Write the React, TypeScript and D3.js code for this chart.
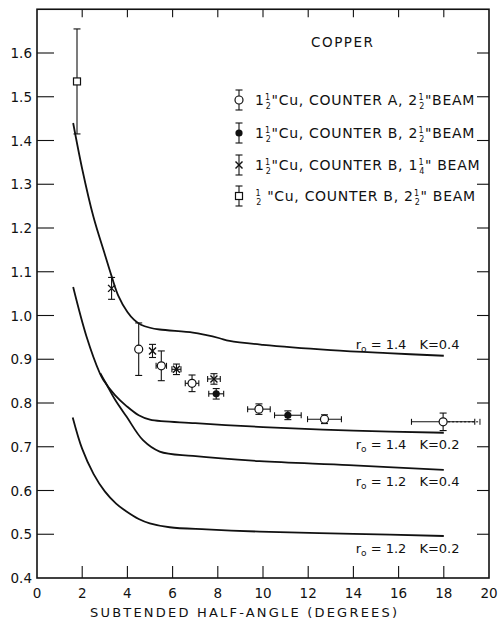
import React from "react";
import * as d3 from "d3";

const W = 498;
const H = 621;

// Theoretical curves: [subtended half-angle (deg), ratio]
const curveR14K04: [number, number][] = [
  [1.6, 1.44], [2.0, 1.335], [2.5, 1.225], [3.0, 1.14], [3.3, 1.09], [3.6, 1.045],
  [4.0, 1.008], [4.3, 0.99], [4.6, 0.979], [5.0, 0.972], [5.43, 0.968], [6.9, 0.961],
  [7.5, 0.955], [8.08, 0.948], [8.52, 0.942], [10.0, 0.933], [13.0, 0.921],
  [15.5, 0.914], [18.0, 0.908],
];
const curveR14K02: [number, number][] = [
  [1.6, 1.065], [2.19, 0.952], [2.78, 0.868], [2.93, 0.853], [3.45, 0.818],
  [3.96, 0.793], [4.5, 0.772], [5.0, 0.762], [7.0, 0.754], [10.0, 0.745],
  [14.0, 0.737], [18.0, 0.732],
];
const curveR12K04: [number, number][] = [
  [2.8, 0.868], [3.05, 0.845], [3.45, 0.808], [3.96, 0.769], [4.69, 0.715],
  [5.43, 0.689], [6.9, 0.679], [9.85, 0.667], [13.8, 0.658], [18.0, 0.647],
];
const curveR12K02: [number, number][] = [
  [1.58, 0.767], [2.0, 0.695], [2.5, 0.638], [3.0, 0.598], [3.5, 0.57],
  [3.96, 0.552], [4.5, 0.535], [4.99, 0.525], [5.87, 0.516], [7.5, 0.511],
  [9.85, 0.506], [14.0, 0.501], [18.0, 0.496],
];

const curveNames = [
  { r0: "1.4", k: "0.4" },
  { r0: "1.4", k: "0.2" },
  { r0: "1.2", k: "0.4" },
  { r0: "1.2", k: "0.2" },
];

// Measurements: angle, ratio, vertical error, horizontal error
type Meas = { x: number; y: number; ey: number; ex: number };
const cuCounterA: Meas[] = [
  { x: 4.5, y: 0.923, ey: 0.06, ex: 0 },
  { x: 5.5, y: 0.885, ey: 0.034, ex: 0.23 },
  { x: 6.86, y: 0.845, ey: 0.019, ex: 0.3 },
  { x: 9.82, y: 0.786, ey: 0.012, ex: 0.5 },
  { x: 12.72, y: 0.763, ey: 0.01, ex: 0.75 },
  { x: 17.97, y: 0.757, ey: 0.02, ex: 1.4 },
];
// upper angular reach of the widest point, drawn dashed
const cuCounterAOuterReach = 19.6;
const cuCounterB: Meas[] = [
  { x: 7.93, y: 0.821, ey: 0.012, ex: 0.33 },
  { x: 11.1, y: 0.772, ey: 0.01, ex: 0.59 },
];
const cuCounterBNarrow: Meas[] = [
  { x: 3.3, y: 1.062, ey: 0.025, ex: 0 },
  { x: 5.11, y: 0.919, ey: 0.015, ex: 0 },
  { x: 6.17, y: 0.877, ey: 0.012, ex: 0.2 },
  { x: 7.83, y: 0.855, ey: 0.012, ex: 0.28 },
];
const thinCuCounterB: Meas[] = [
  { x: 1.77, y: 1.535, ey: 0.12, ex: 0 },
];

const xTickValues = [0, 2, 4, 6, 8, 10, 12, 14, 16, 18, 20];
const yTickValues = [0.4, 0.5, 0.6, 0.7, 0.8, 0.9, 1.0, 1.1, 1.2, 1.3, 1.4, 1.5, 1.6];

// legend text runs: plain strings and stacked fractions [numerator, denominator]
type Seg = string | [string, string];
const legendLabels: Seg[][] = [
  ["1", ["1", "2"], "\"Cu, COUNTER  A, 2", ["1", "2"], "\"BEAM"],
  ["1", ["1", "2"], "\"Cu, COUNTER  B, 2", ["1", "2"], "\"BEAM"],
  ["1", ["1", "2"], "\"Cu, COUNTER  B, 1", ["1", "4"], "\" BEAM"],
  [["1", "2"], " \"Cu, COUNTER  B, 2", ["1", "2"], "\" BEAM"],
];

const FONT = "'DejaVu Sans', sans-serif";
const INK = "#111";

const x = d3.scaleLinear().domain([0, 20]).range([37, 489]);
const y = d3.scaleLinear().domain([0.4, 1.7]).range([578, 9.25]);

const line = d3
  .line<[number, number]>()
  .x((d) => x(d[0]))
  .y((d) => y(d[1]))
  .curve(d3.curveCatmullRom.alpha(0.5));

type Shape = "circle" | "dot" | "cross" | "square";
const legendShapes: Shape[] = ["circle", "dot", "cross", "square"];

function Marker({ cx, cy, shape }: { cx: number; cy: number; shape: Shape }) {
  if (shape === "circle")
    return <circle cx={cx} cy={cy} r={4} fill="#fff" stroke={INK} strokeWidth={1.2} />;
  if (shape === "dot") return <circle cx={cx} cy={cy} r={3.6} fill={INK} />;
  if (shape === "square")
    return <rect x={cx - 3.5} y={cy - 3.5} width={7} height={7} fill="#fff" stroke={INK} strokeWidth={1.2} />;
  return (
    <g stroke={INK} strokeWidth={1.4}>
      <line x1={cx - 3.5} y1={cy - 3.5} x2={cx + 3.5} y2={cy + 3.5} />
      <line x1={cx - 3.5} y1={cy + 3.5} x2={cx + 3.5} y2={cy - 3.5} />
    </g>
  );
}

function ErrPoint({ d, shape }: { d: Meas; shape: Shape }) {
  const cx = x(d.x);
  const cy = y(d.y);
  const y0 = y(d.y + d.ey);
  const y1 = y(d.y - d.ey);
  const cap = 3.5;
  return (
    <g>
      <g stroke={INK} strokeWidth={1.1}>
        <line x1={cx} y1={y0} x2={cx} y2={y1} />
        <line x1={cx - cap} y1={y0} x2={cx + cap} y2={y0} />
        <line x1={cx - cap} y1={y1} x2={cx + cap} y2={y1} />
        {d.ex > 0 && (
          <>
            <line x1={x(d.x - d.ex)} y1={cy} x2={x(d.x + d.ex)} y2={cy} />
            <line x1={x(d.x - d.ex)} y1={cy - 3} x2={x(d.x - d.ex)} y2={cy + 3} />
            <line x1={x(d.x + d.ex)} y1={cy - 3} x2={x(d.x + d.ex)} y2={cy + 3} />
          </>
        )}
      </g>
      <Marker cx={cx} cy={cy} shape={shape} />
    </g>
  );
}

// renders a run of text with stacked fractions, returning to the baseline after each
function renderSegs(segs: Seg[]) {
  const fs = 8;
  const out: React.ReactNode[] = [];
  let lowered = 0;
  segs.forEach((s, i) => {
    if (typeof s === "string") {
      out.push(
        <tspan key={i} dy={-lowered}>
          {s}
        </tspan>
      );
      lowered = 0;
    } else {
      out.push(
        <tspan key={i + "n"} fontSize={fs} dy={-5 - lowered} dx={0.5}>
          {s[0]}
        </tspan>
      );
      out.push(
        <tspan key={i + "d"} fontSize={fs} dx={-0.636 * fs} dy={9}>
          {s[1]}
        </tspan>
      );
      lowered = 4;
    }
  });
  return out;
}

export default function App() {
  const left = x(0);
  const right = x(20);
  const top = y(1.7);
  const bottom = y(0.4);
  const curves = [curveR14K04, curveR14K02, curveR12K04, curveR12K02];
  // label anchors: angle of left edge, ratio at text centre
  const labelAnchors = [
    { ax: 14.1, ay: 0.934 },
    { ax: 14.1, ay: 0.706 },
    { ax: 14.1, ay: 0.622 },
    { ax: 14.1, ay: 0.469 },
  ];
  const legendX = 239;
  const legendY = [100, 133, 165, 196];
  const last = cuCounterA[cuCounterA.length - 1];

  return (
    <svg
      width={W}
      height={H}
      style={{ position: "absolute", left: 0, top: 0, background: "#fff" }}
      fontFamily={FONT}
    >
      <rect width={W} height={H} fill="#fff" />

      {/* frame */}
      <rect x={left} y={top} width={right - left} height={bottom - top} fill="none" stroke={INK} strokeWidth={1.6} />

      {/* ticks */}
      <g stroke={INK} strokeWidth={1.1}>
        {yTickValues.filter((v) => v > 0.45).map((v) => (
          <g key={"yt" + v}>
            <line x1={left} x2={left + 17} y1={y(v)} y2={y(v)} />
            <line x1={right - 12} x2={right} y1={y(v)} y2={y(v)} />
          </g>
        ))}
        {xTickValues.filter((v) => v > 0 && v < 20).map((v) => (
          <g key={"xt" + v}>
            <line x1={x(v)} x2={x(v)} y1={bottom} y2={bottom - 12} />
            <line x1={x(v)} x2={x(v)} y1={top} y2={top + 8} />
          </g>
        ))}
      </g>

      {/* tick labels */}
      <g fontSize={13.5} fill={INK}>
        {yTickValues.map((v) => (
          <text key={"yl" + v} x={32} y={y(v) + 5} textAnchor="end">
            {d3.format(".1f")(v)}
          </text>
        ))}
        {xTickValues.map((v) => (
          <text key={"xl" + v} x={x(v)} y={598} textAnchor="middle">
            {v}
          </text>
        ))}
      </g>
      <text x={243.5} y={617} textAnchor="middle" fontSize={13} fill={INK} textLength={307} lengthAdjust="spacing">
        SUBTENDED HALF-ANGLE (DEGREES)
      </text>

      {/* theoretical curves */}
      {curves.map((c, i) => (
        <path key={"c" + i} d={line(c) ?? ""} fill="none" stroke={INK} strokeWidth={1.8} />
      ))}
      {curveNames.map((n, i) => (
        <text key={"cl" + i} x={x(labelAnchors[i].ax)} y={y(labelAnchors[i].ay) + 5} fontSize={13} fill={INK}>
          <tspan>r</tspan>
          <tspan fontSize={9} dy={3}>o</tspan>
          <tspan dy={-3}>{" = " + n.r0}</tspan>
          <tspan dx={13}>{"K=" + n.k}</tspan>
        </text>
      ))}

      {/* measurements */}
      <g stroke={INK} strokeWidth={1} strokeDasharray="2,2">
        <line x1={x(last.x) + 5} x2={x(cuCounterAOuterReach)} y1={y(last.y)} y2={y(last.y)} />
      </g>
      <line
        x1={x(cuCounterAOuterReach)} x2={x(cuCounterAOuterReach)}
        y1={y(last.y) - 3} y2={y(last.y) + 3}
        stroke={INK} strokeWidth={1}
      />
      {cuCounterA.map((d, i) => <ErrPoint key={"a" + i} d={d} shape="circle" />)}
      {cuCounterB.map((d, i) => <ErrPoint key={"b" + i} d={d} shape="dot" />)}
      {cuCounterBNarrow.map((d, i) => <ErrPoint key={"n" + i} d={d} shape="cross" />)}
      {thinCuCounterB.map((d, i) => <ErrPoint key={"s" + i} d={d} shape="square" />)}

      {/* title and legend */}
      <text x={342} y={47} textAnchor="middle" fontSize={13.5} fill={INK} textLength={62} lengthAdjust="spacing">
        COPPER
      </text>
      {legendLabels.map((segs, i) => (
        <g key={"lg" + i}>
          <g stroke={INK} strokeWidth={1.1}>
            <line x1={legendX} x2={legendX} y1={legendY[i] - 10} y2={legendY[i] + 10} />
            <line x1={legendX - 3.5} x2={legendX + 3.5} y1={legendY[i] - 10} y2={legendY[i] - 10} />
            <line x1={legendX - 3.5} x2={legendX + 3.5} y1={legendY[i] + 10} y2={legendY[i] + 10} />
          </g>
          <Marker cx={legendX} cy={legendY[i]} shape={legendShapes[i]} />
          <text x={255} y={legendY[i] + 5} fontSize={14} letterSpacing={0.7} fill={INK}>
            {renderSegs(segs)}
          </text>
        </g>
      ))}
    </svg>
  );
}
